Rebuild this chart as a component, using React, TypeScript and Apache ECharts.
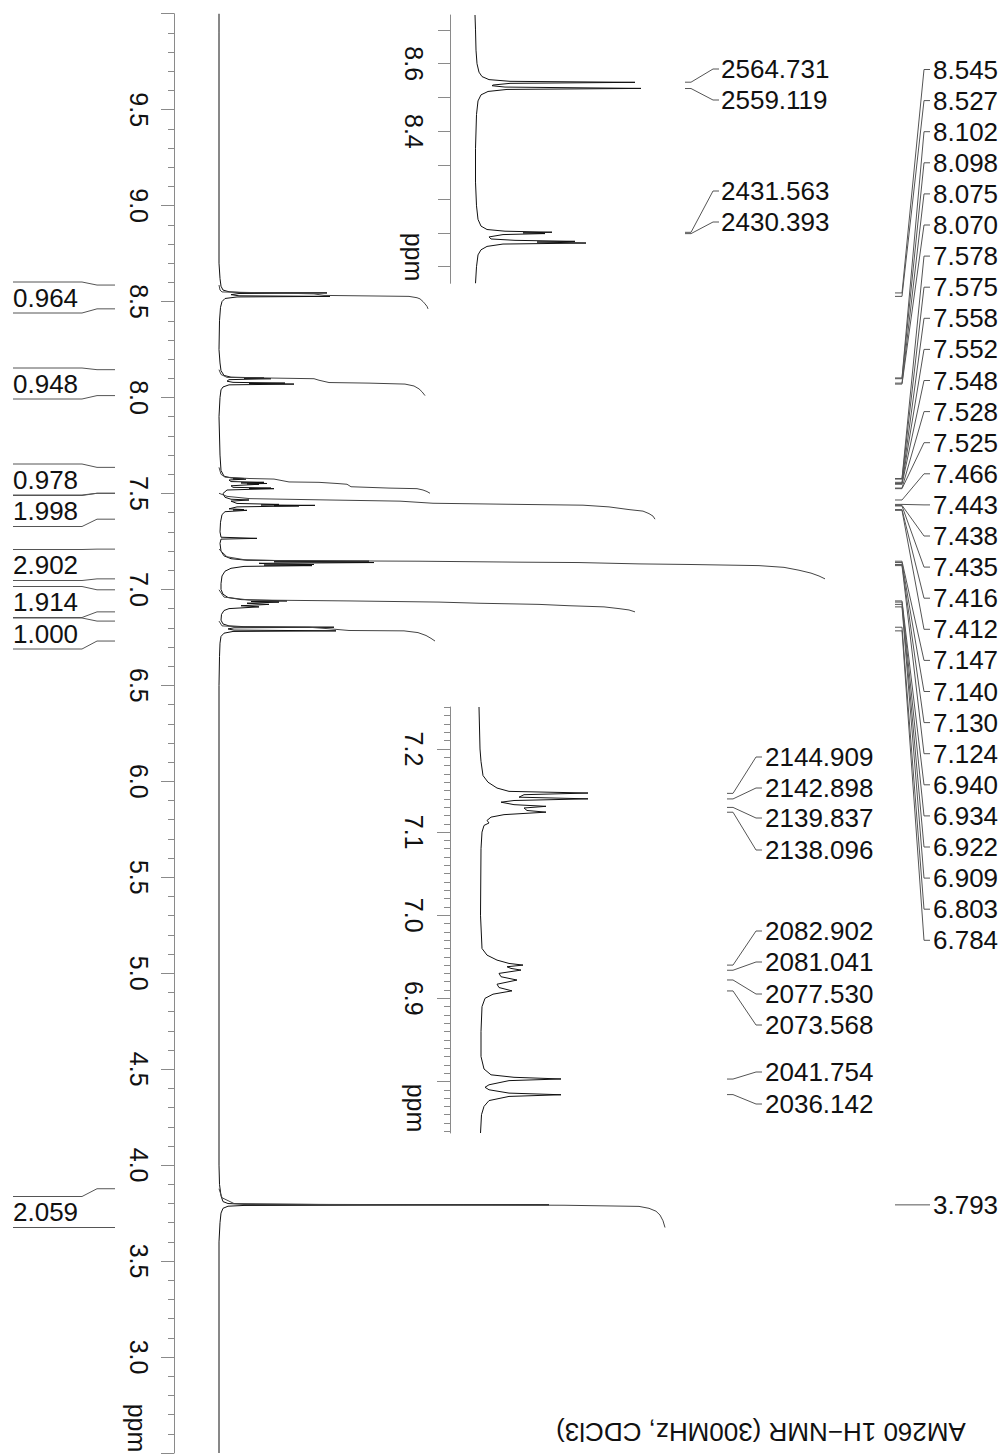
import React, { useEffect, useRef } from "react";
import * as echarts from "echarts";

const FONT = "'Liberation Sans', Arial, Helvetica, sans-serif";
const TITLE = "AM260 1H\u2212NMR (300MHz, CDCl3)";
const SF_MHZ = 300.13;

// ---------- data: [ppm, intensity] ----------
const mainTrace: [number, number][] = [
  [10.0, 0], [9.9, 0], [8.7, 0], [8.62, 1], [8.58, 2], [8.56, 4], [8.551, 10], [8.547, 22], [8.545, 108], [8.542, 20],
  [8.536, 12], [8.53, 20], [8.527, 111], [8.524, 18], [8.516, 6], [8.5, 3], [8.47, 1.5], [8.4, 0.5], [8.25, 0],
  [8.18, 1], [8.14, 2], [8.115, 5], [8.106, 12], [8.102, 45], [8.1, 25], [8.098, 52], [8.093, 10], [8.085, 8],
  [8.079, 14], [8.075, 66], [8.073, 30], [8.07, 75], [8.066, 10], [8.055, 4], [8.04, 2], [8.0, 1], [7.9, 0],
  [7.7, 1], [7.62, 2], [7.59, 5], [7.581, 12], [7.578, 25], [7.576, 14], [7.575, 27], [7.57, 10], [7.562, 12],
  [7.558, 45], [7.555, 22], [7.552, 48], [7.55, 28], [7.548, 40], [7.54, 12], [7.532, 14], [7.528, 52], [7.526, 30],
  [7.525, 55], [7.518, 8], [7.5, 4], [7.48, 6], [7.47, 12], [7.466, 30], [7.46, 12], [7.448, 18], [7.443, 60],
  [7.44, 42], [7.438, 96], [7.436, 55], [7.435, 80], [7.43, 18], [7.42, 10], [7.416, 25], [7.414, 14], [7.412, 28],
  [7.405, 6], [7.39, 3], [7.35, 1.5], [7.3, 1], [7.272, 2], [7.266, 38], [7.262, 2], [7.24, 1], [7.2, 2],
  [7.175, 5], [7.16, 12], [7.152, 28], [7.147, 150], [7.144, 55], [7.14, 155], [7.136, 40], [7.133, 52], [7.13, 95],
  [7.127, 45], [7.124, 93], [7.12, 25], [7.11, 12], [7.095, 6], [7.07, 3], [7.03, 2], [7.0, 2], [6.975, 4],
  [6.958, 9], [6.947, 22], [6.94, 68], [6.937, 32], [6.934, 60], [6.928, 28], [6.922, 50], [6.915, 22], [6.909, 40],
  [6.9, 10], [6.89, 5], [6.87, 2.5], [6.84, 2], [6.82, 4], [6.81, 10], [6.806, 25], [6.803, 115], [6.8, 15],
  [6.794, 9], [6.788, 15], [6.784, 117], [6.781, 14], [6.772, 5], [6.755, 2], [6.72, 1], [6.65, 0.5], [6.5, 0],
  [4.0, 0], [3.9, 0.5], [3.84, 2], [3.81, 4], [3.8, 9], [3.796, 25], [3.793, 330], [3.79, 25], [3.786, 9],
  [3.775, 4], [3.75, 2], [3.7, 1], [3.6, 0], [2.5, 0],
];

const inset1Trace: [number, number][] = [
  [8.744, 0], [8.7, 0.5], [8.64, 1], [8.6, 2], [8.575, 4], [8.562, 7], [8.553, 14], [8.548, 35], [8.545, 160],
  [8.542, 35], [8.537, 18], [8.535, 17], [8.531, 30], [8.527, 166], [8.524, 32], [8.518, 13], [8.508, 6], [8.49, 3],
  [8.45, 1.5], [8.35, 0.5], [8.25, 0.5], [8.18, 1.5], [8.14, 3], [8.12, 6], [8.11, 12], [8.105, 30], [8.102, 77],
  [8.1, 48], [8.098, 70], [8.095, 28], [8.088, 14], [8.082, 16], [8.078, 40], [8.075, 100], [8.073, 62], [8.07, 111],
  [8.067, 28], [8.06, 12], [8.05, 6], [8.035, 3], [8.0, 1.5], [7.951, 0.5],
];

const inset2Trace: [number, number][] = [
  [7.2505, 0], [7.2, 1], [7.185, 2], [7.168, 4], [7.16, 9], [7.153, 18], [7.149, 30], [7.147, 109], [7.145, 45],
  [7.142, 40], [7.14, 109], [7.138, 35], [7.136, 22], [7.133, 35], [7.131, 67], [7.129, 45], [7.126, 48], [7.124, 67],
  [7.121, 25], [7.118, 12], [7.114, 8], [7.111, 10], [7.108, 5], [7.1, 3], [7.08, 2], [7.0, 1.5], [6.96, 3],
  [6.952, 8], [6.946, 18], [6.942, 30], [6.94, 44], [6.938, 28], [6.936, 32], [6.934, 42], [6.93, 20], [6.926, 22],
  [6.922, 38], [6.917, 18], [6.913, 20], [6.909, 33], [6.905, 14], [6.9, 6], [6.89, 3], [6.86, 2], [6.83, 2],
  [6.815, 5], [6.808, 12], [6.805, 35], [6.803, 82], [6.801, 30], [6.796, 10], [6.793, 6], [6.79, 10], [6.786, 30],
  [6.784, 82], [6.782, 30], [6.777, 10], [6.77, 5], [6.76, 2.5], [6.738, 1.5],
];

// integral curves: [ppm, cumulative value]
const int1: [number, number][] = [[8.586, 0], [8.56, 1], [8.55, 3], [8.545, 55], [8.54, 95], [8.532, 105], [8.527, 190], [8.52, 198], [8.514, 201], [8.5, 204], [8.488, 206], [8.475, 208], [8.462, 209]];
const int2: [number, number][] = [[8.145, 0], [8.12, 2], [8.105, 8], [8.102, 45], [8.098, 95], [8.09, 100], [8.078, 110], [8.075, 150], [8.07, 186], [8.06, 195], [8.045, 200], [8.03, 203], [8.01, 206]];
const int3: [number, number][] = [[7.636, 0], [7.6, 2], [7.585, 6], [7.578, 30], [7.575, 55], [7.56, 70], [7.558, 100], [7.552, 118], [7.548, 128], [7.535, 132], [7.528, 170], [7.525, 198], [7.518, 204], [7.51, 208], [7.501, 211]];
const int4: [number, number][] = [[7.501, 0], [7.485, 8], [7.473, 31], [7.466, 110], [7.46, 181], [7.449, 214], [7.443, 300], [7.439, 364], [7.43, 390], [7.416, 410], [7.408, 424], [7.395, 430], [7.382, 434], [7.366, 436]];
const int5: [number, number][] = [[7.21, 0], [7.17, 8], [7.155, 25], [7.15, 60], [7.147, 200], [7.142, 300], [7.14, 360], [7.133, 420], [7.13, 470], [7.124, 540], [7.115, 565], [7.1, 580], [7.085, 592], [7.07, 600], [7.055, 606]];
const int6: [number, number][] = [[6.998, 0], [6.96, 5], [6.945, 30], [6.94, 130], [6.934, 220], [6.928, 260], [6.922, 320], [6.915, 350], [6.909, 385], [6.9, 400], [6.893, 410], [6.883, 416]];
const int7: [number, number][] = [[6.835, 0], [6.81, 3], [6.805, 20], [6.803, 90], [6.795, 110], [6.786, 130], [6.784, 185], [6.775, 199], [6.76, 207], [6.745, 212], [6.731, 216]];
const int8: [number, number][] = [[3.877, 0], [3.83, 3], [3.8, 15], [3.795, 100], [3.793, 223], [3.791, 345], [3.785, 420], [3.775, 430], [3.76, 437], [3.74, 441], [3.71, 444], [3.675, 446]];
const integralCurves = [int1, int2, int3, int4, int5, int6, int7, int8];

const integralValues = ["0.964", "0.948", "0.978", "1.998", "2.902", "1.914", "1.000", "2.059"];
const integralFrom = [8.586, 8.145, 7.636, 7.501, 7.21, 6.998, 6.835, 3.877];
const integralTo = [8.462, 8.01, 7.501, 7.366, 7.055, 6.883, 6.731, 3.675];

const mainPeaks = [8.545, 8.527, 8.102, 8.098, 8.075, 8.07, 7.578, 7.575, 7.558, 7.552, 7.548, 7.528, 7.525,
  7.466, 7.443, 7.438, 7.435, 7.416, 7.412, 7.147, 7.14, 7.13, 7.124, 6.94, 6.934, 6.922, 6.909, 6.803, 6.784, 3.793];
const inset1PeaksHz = [2564.731, 2559.119, 2431.563, 2430.393];
const inset2PeaksHz = [2144.909, 2142.898, 2139.837, 2138.096, 2082.902, 2081.041, 2077.53, 2073.568, 2041.754, 2036.142];

const inset1Ticks = [8.0, 8.1, 8.2, 8.3, 8.4, 8.5, 8.6, 8.7];
const inset1Labels = [8.4, 8.6];
const inset2Ticks = [6.8, 6.9, 7.0, 7.1, 7.2];
const inset2Labels = [6.9, 7.0, 7.1, 7.2];

// ---------- layout (pixels) ----------
const MAIN_LABEL_TOP = 69.5;
const MAIN_LABEL_STEP = 31.1;
const INSET1_LABEL_Y = [69, 100, 191, 222];
const INSET2_LABEL_Y = [757, 788, 818, 850, 931, 962, 994, 1025, 1072, 1104];
const INTEGRAL_LABEL_Y = [297.5, 383.5, 479.5, 511, 565, 602, 633.5, 1212];

const AXIS = "#8a8a8a";
const INK = "#111";
const LINK = "#555";

function txt(x: number, y: number, text: string, size: number, align = "left") {
  return {
    type: "text",
    x,
    y,
    style: {
      text,
      fill: INK,
      fontSize: size,
      fontFamily: FONT,
      align,
      textAlign: align,
      verticalAlign: "middle",
      textVerticalAlign: "middle",
    },
  };
}

function connector(pts: number[][]) {
  return { type: "polyline", shape: { points: pts }, style: { stroke: LINK, lineWidth: 1, fill: null } };
}

export default function App() {
  const ref = useRef<HTMLDivElement>(null);

  useEffect(() => {
    if (!ref.current) return;
    const chart = echarts.init(ref.current, null, { renderer: "svg" });

    const inset2Minor: number[] = [];
    for (let k = 674; k <= 725; k++) inset2Minor.push(k / 100);

    const lineSeries = (data: [number, number][], xi: number, yi: number, color: string) => ({
      type: "line",
      xAxisIndex: xi,
      yAxisIndex: yi,
      data: data.map(([p, v]) => [v, p]),
      showSymbol: false,
      symbol: "none",
      silent: true,
      lineStyle: { color, width: 1 },
    });

    const option: any = {
      animation: false,
      backgroundColor: "#fff",
      grid: [
        { left: 174, top: 13.7, width: 832, height: 7.5 * 192.6 },
        { left: 450, top: 15, width: 250, height: 268.3 },
        { left: 450, top: 707, width: 250, height: 426 },
      ],
      xAxis: [
        { type: "value", gridIndex: 0, min: -45, max: 787, show: false },
        { type: "value", gridIndex: 1, min: -25, max: 225, show: false },
        { type: "value", gridIndex: 2, min: -29, max: 221, show: false },
      ],
      yAxis: [
        {
          type: "value", gridIndex: 0, min: 2.5, max: 10, interval: 0.5, position: "left", offset: 0,
          axisLine: { show: true, onZero: false, lineStyle: { color: AXIS, width: 1 } },
          axisTick: { show: true, length: 13, lineStyle: { color: AXIS } },
          minorTick: { show: true, splitNumber: 5, length: 6, lineStyle: { color: AXIS } },
          splitLine: { show: false }, minorSplitLine: { show: false },
          axisLabel: {
            rotate: -90, margin: 23, fontSize: 25, fontFamily: FONT, color: INK,
            formatter: (v: number) => (v > 9.99 || v < 2.99 ? "" : v.toFixed(1)),
          },
        },
        {
          type: "value", gridIndex: 1, min: 7.951, max: 8.744, position: "left", offset: 0,
          axisLine: { show: true, onZero: false, lineStyle: { color: AXIS, width: 1 } },
          axisTick: { show: true, length: 12, customValues: inset1Ticks, lineStyle: { color: AXIS } },
          splitLine: { show: false },
          axisLabel: {
            rotate: -90, margin: 24, fontSize: 25, fontFamily: FONT, color: INK, customValues: inset1Labels,
            formatter: (v: number) => v.toFixed(1),
          },
        },
        {
          type: "value", gridIndex: 2, min: 6.738, max: 7.2505, position: "left", offset: 0,
          axisLine: { show: true, onZero: false, lineStyle: { color: AXIS, width: 1 } },
          axisTick: { show: true, length: 13, customValues: inset2Ticks, lineStyle: { color: AXIS } },
          splitLine: { show: false },
          axisLabel: {
            rotate: -90, margin: 24, fontSize: 25, fontFamily: FONT, color: INK, customValues: inset2Labels,
            formatter: (v: number) => v.toFixed(1),
          },
        },
        {
          type: "value", gridIndex: 2, min: 6.738, max: 7.2505, position: "left", offset: 0,
          axisLine: { show: false, onZero: false },
          axisTick: { show: true, length: 6, customValues: inset2Minor, lineStyle: { color: AXIS } },
          splitLine: { show: false },
          axisLabel: { show: false },
        },
      ],
      graphic: [
        { type: "text", x: 137, y: 1428, rotation: -Math.PI / 2, style: { text: "ppm", fill: INK, fontSize: 25, fontFamily: FONT, align: "center", textAlign: "center", verticalAlign: "middle", textVerticalAlign: "middle" } },
        { type: "text", x: 414, y: 257, rotation: -Math.PI / 2, style: { text: "ppm", fill: INK, fontSize: 25, fontFamily: FONT, align: "center", textAlign: "center", verticalAlign: "middle", textVerticalAlign: "middle" } },
        { type: "text", x: 416, y: 1108, rotation: -Math.PI / 2, style: { text: "ppm", fill: INK, fontSize: 25, fontFamily: FONT, align: "center", textAlign: "center", verticalAlign: "middle", textVerticalAlign: "middle" } },
        { type: "text", x: 761, y: 1432, rotation: Math.PI, style: { text: TITLE, fill: INK, fontSize: 26, fontFamily: FONT, align: "center", textAlign: "center", verticalAlign: "middle", textVerticalAlign: "middle" } },
      ],
      series: [
        lineSeries(mainTrace, 0, 0, INK),
        ...integralCurves.map((c) => lineSeries(c, 0, 0, "#444")),
        lineSeries(inset1Trace, 1, 1, INK),
        lineSeries(inset2Trace, 2, 2, INK),
        {
          type: "custom",
          xAxisIndex: 0,
          yAxisIndex: 0,
          clip: false,
          silent: true,
          encode: { x: 0, y: 1 },
          data: mainPeaks.map((p) => [0, p]),
          renderItem: (params: any, api: any) => {
            const i = params.dataIndex;
            const yp = api.coord([0, api.value(1)])[1];
            const yl = i < 29 ? MAIN_LABEL_TOP + i * MAIN_LABEL_STEP : yp;
            return {
              type: "group",
              children: [
                connector([[895, yp], [902, yp], [924, yl], [930, yl]]),
                txt(933, yl, mainPeaks[i].toFixed(3), 26),
              ],
            };
          },
        },
        {
          type: "custom",
          xAxisIndex: 1,
          yAxisIndex: 1,
          clip: false,
          silent: true,
          encode: { x: 0, y: 1 },
          data: inset1PeaksHz.map((h) => [0, h / SF_MHZ]),
          renderItem: (params: any, api: any) => {
            const i = params.dataIndex;
            const yp = api.coord([0, api.value(1)])[1];
            const yl = INSET1_LABEL_Y[i];
            return {
              type: "group",
              children: [
                connector([[685, yp], [691, yp], [713, yl], [719, yl]]),
                txt(721, yl, inset1PeaksHz[i].toFixed(3), 26),
              ],
            };
          },
        },
        {
          type: "custom",
          xAxisIndex: 2,
          yAxisIndex: 2,
          clip: false,
          silent: true,
          encode: { x: 0, y: 1 },
          data: inset2PeaksHz.map((h) => [0, h / SF_MHZ]),
          renderItem: (params: any, api: any) => {
            const i = params.dataIndex;
            const yp = api.coord([0, api.value(1)])[1];
            const yl = INSET2_LABEL_Y[i];
            return {
              type: "group",
              children: [
                connector([[727, yp], [733, yp], [756, yl], [762, yl]]),
                txt(765, yl, inset2PeaksHz[i].toFixed(3), 26),
              ],
            };
          },
        },
        {
          type: "custom",
          xAxisIndex: 0,
          yAxisIndex: 0,
          clip: false,
          silent: true,
          encode: { x: 0, y: 1 },
          data: integralFrom.map((f, i) => [0, f, integralTo[i]]),
          renderItem: (params: any, api: any) => {
            const i = params.dataIndex;
            const ys = api.coord([0, api.value(1)])[1];
            const ye = api.coord([0, api.value(2)])[1];
            const yc = INTEGRAL_LABEL_Y[i];
            const top = yc - 15.5;
            const bot = yc + 15.5;
            return {
              type: "group",
              children: [
                connector([[13, top], [82, top], [97, ys], [115, ys]]),
                connector([[13, bot], [82, bot], [97, ye], [115, ye]]),
                txt(13, yc, integralValues[i], 26),
              ],
            };
          },
        },
      ],
    };

    chart.setOption(option);
    return () => chart.dispose();
  }, []);

  return (
    <div
      ref={ref}
      style={{ position: "absolute", left: 0, top: 0, width: 1006, height: 1456, background: "#fff" }}
    />
  );
}
